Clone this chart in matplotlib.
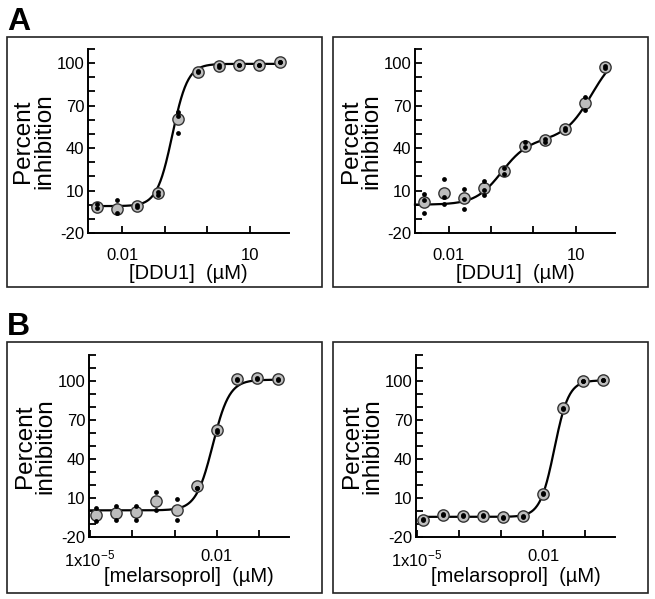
import numpy as np
import matplotlib.pyplot as plt
from matplotlib.patches import Rectangle

plt.rcParams['font.family'] = ['Liberation Sans', 'DejaVu Sans']
plt.rcParams['mathtext.fontset'] = 'custom'
plt.rcParams['mathtext.rm'] = 'Liberation Sans'

# concentrations (uM), 3-fold dilution series
conc_ddu1 = [0.00254, 0.00762, 0.0229, 0.0686, 0.206, 0.617, 1.85, 5.56, 16.7, 50.0]
conc_mel = [1.37e-5, 4.12e-5, 1.23e-4, 3.70e-4, 1.11e-3, 3.33e-3, 0.01, 0.03, 0.09, 0.27]

# panel A left
a1_mean = [-1.6, -2.8, -0.9, 8.3, 60.3, 94.0, 98.3, 98.8, 98.8, 100.7]
a1_reps = [[0.2, -2.2], [3.1, -5.6], [-0.5, -1.3], [7.0, 9.0], [65.2, 50.4, 63.0],
           [94.5, 93.5], [97.5, 99.0], [98.5, 99.0], [98.5, 99.0], [100.5, 100.8]]
# panel A right
a2_mean = [2.0, 8.3, 4.8, 11.9, 24.0, 41.6, 45.7, 53.5, 71.7, 97.2]
a2_reps = [[7.9, 3.6, -5.8], [18.5, 5.5, 0.3], [10.9, 3.8, -2.8], [16.6, 10.2, 6.7],
           [25.6, 21.5], [44.5, 40.5], [46.5, 44.5], [54.0, 53.0], [76.4, 66.9], [96.5, 98.0]]
# panel B left
b1_mean = [-2.8, -1.5, -1.0, 7.5, 0.5, 19.0, 62.0, 101.3, 102.0, 101.3]
b1_reps = [[2.3, -8.0], [3.6, -7.2], [3.6, -6.7], [14.4, 0.5], [9.3, -7.2],
           [17.5, 18.0], [61.0, 62.5], [101.0, 101.5], [101.5, 102.0], [101.0, 101.5]]
# panel B right
b2_mean = [-7.0, -2.8, -3.6, -3.6, -4.9, -4.1, 13.4, 79.0, 100.0, 100.8]
b2_reps = [[-7.0, -6.5], [-2.5, -3.0], [-3.3, -3.8], [-3.3, -3.8], [-4.6, -5.0],
           [-4.0, -4.3], [13.0, 13.6], [79.0, 78.5], [100.0, 99.8], [100.8, 100.5]]

# fitted curve parameters
a1_fit = (-1.0, 99.5, -0.82, 2.4)           # bottom, top, logIC50, hill
a2_fit = (0.0, 46.0, -0.75, 1.4, 110.0, 1.38, 1.35)  # biphasic
b1_fit = (0.5, 101.0, -2.1, 2.2)
b2_fit = (-4.5, 100.5, -1.73, 2.56)

W, H = 655, 599
fig = plt.figure(figsize=(W / 100, H / 100), dpi=100)


def hill(x, bottom, top, logic, n):
    return bottom + (top - bottom) / (1 + 10 ** ((logic - np.log10(x)) * n))


def add_ax(l, r, t, b):
    return fig.add_axes([l / W, 1 - b / H, (r - l) / W, (b - t) / H])


def frame(l, t, r, b):
    fig.add_artist(Rectangle((l / W, 1 - b / H), (r - l) / W, (b - t) / H,
                             transform=fig.transFigure, fill=False,
                             edgecolor='#222222', linewidth=1.2))


def panel(ax, conc, means, reps, cx, cy, ytop, xlim, xticks, xlabels, xlabel, xpad):
    ax.plot(cx, cy, color='black', lw=1.6, zorder=2, clip_on=False)
    ax.scatter(conc, means, s=66, color='#bdbdbd', edgecolor='#333333',
               linewidth=1.0, zorder=3, clip_on=False)
    rx = [c for c, r in zip(conc, reps) for _ in r]
    ry = [v for r in reps for v in r]
    ax.scatter(rx, ry, s=12, color='black', linewidth=0, zorder=4, clip_on=False)
    ax.set_xscale('log')
    ax.set_xlim(*xlim)
    ax.set_ylim(-20, ytop)
    ax.set_yticks(np.arange(-20, ytop + 1, 10))
    ax.set_yticklabels([str(v) if v in (-20, 10, 40, 70, 100) else ''
                        for v in range(-20, ytop + 1, 10)])
    ax.set_xticks(xticks)
    ax.set_xticklabels(xlabels)
    ax.minorticks_off()
    for s in ('top', 'right'):
        ax.spines[s].set_visible(False)
    for s in ('left', 'bottom'):
        ax.spines[s].set_linewidth(1.4)
    ax.tick_params(axis='both', direction='in', length=5, width=1.3, labelsize=12)
    ax.tick_params(axis='y', pad=2.5)
    ax.tick_params(axis='x', pad=xpad)
    ax.patch.set_alpha(0)
    ax.text(-0.27, 0.5, 'Percent\ninhibition', rotation=90, transform=ax.transAxes,
            ha='center', va='center', fontsize=17.5, linespacing=0.92)
    ax.text(0.5, -0.25, xlabel, transform=ax.transAxes, ha='center', va='baseline',
            fontsize=14.5)


frame(7, 37, 322, 287)
frame(333, 37, 648, 287)
frame(7, 342, 322, 593)
frame(333, 342, 648, 593)

fig.text(7 / W, 1 - 30 / H, 'A', fontsize=23, fontweight='bold', va='baseline')
fig.text(7 / W, 1 - 335 / H, 'B', fontsize=23, fontweight='bold', va='baseline')

ax1 = add_ax(88, 289, 49, 233)
cx = np.logspace(-2.70, 1.69, 300)
panel(ax1, conc_ddu1, a1_mean, a1_reps, cx, hill(cx, *a1_fit), 110,
      (10 ** -2.8, 10 ** 1.92), [0.01, 0.1, 1, 10], ['0.01', '', '', '10'],
      '[DDU1]  (\u00b5M)', 10.5)

ax2 = add_ax(415, 615, 49, 233)
cx = np.logspace(-2.80, 1.72, 300)
b0, p1, l1, n1, tp, l2, n2 = a2_fit
cy = b0 + (p1 - b0) / (1 + 10 ** ((l1 - np.log10(cx)) * n1)) \
    + (tp - p1) / (1 + 10 ** ((l2 - np.log10(cx)) * n2))
panel(ax2, conc_ddu1, a2_mean, a2_reps, cx, cy, 110,
      (10 ** -2.8, 10 ** 1.93), [0.01, 0.1, 1, 10], ['0.01', '', '', '10'],
      '[DDU1]  (\u00b5M)', 10.5)

mel_ticks = [1e-5, 1e-4, 1e-3, 1e-2, 1e-1]
mel_labels = [r'1x10$^{\mathregular{-5}}$', '', '', '0.01', '']

ax3 = add_ax(89, 289, 355, 537)
cx = np.logspace(-5.0, -0.54, 300)
panel(ax3, conc_mel, b1_mean, b1_reps, cx, hill(cx, *b1_fit), 120,
      (10 ** -5.02, 10 ** -0.30), mel_ticks, mel_labels,
      '[melarsoprol]  (\u00b5M)', 8.5)

ax4 = add_ax(416, 615, 355, 537)
cx = np.logspace(-4.87, -0.53, 300)
panel(ax4, conc_mel, b2_mean, b2_reps, cx, hill(cx, *b2_fit), 120,
      (10 ** -5.02, 10 ** -0.29), mel_ticks, mel_labels,
      '[melarsoprol]  (\u00b5M)', 8.5)

fig.savefig('out.png', dpi=100)
